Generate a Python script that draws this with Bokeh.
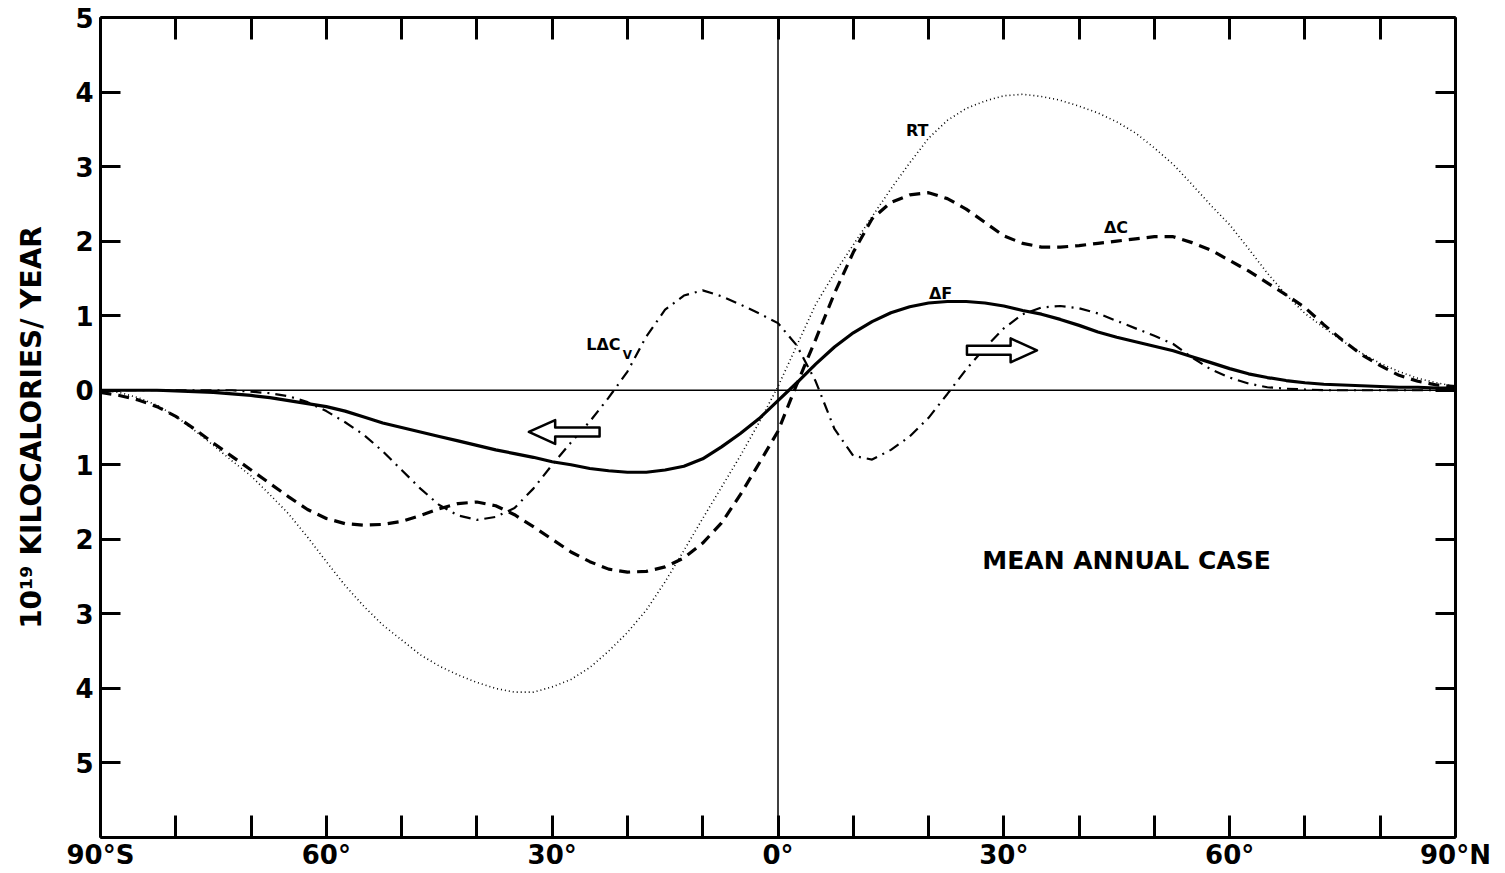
import numpy as np
from bokeh.plotting import figure
from bokeh.models import Range1d, LinearAxis, FixedTicker, Span
from bokeh.core.properties import value
from bokeh.embed import file_html
from bokeh.resources import INLINE

# ---------------- data ----------------
lat = [-90, -87.5, -85, -82.5, -80, -77.5, -75, -72.5, -70, -67.5, -65, -62.5,
       -60, -57.5, -55, -52.5, -50, -47.5, -45, -42.5, -40, -37.5, -35, -32.5,
       -30, -27.5, -25, -22.5, -20, -17.5, -15, -12.5, -10, -7.5, -5, -2.5,
       0, 2.5, 5, 7.5, 10, 12.5, 15, 17.5, 20, 22.5, 25, 27.5, 30, 32.5, 35,
       37.5, 40, 42.5, 45, 47.5, 50, 52.5, 55, 57.5, 60, 62.5, 65, 67.5, 70,
       72.5, 75, 77.5, 80, 82.5, 85, 87.5, 90]

RT = [0.00, -0.03, -0.10, -0.20, -0.35, -0.54, -0.74, -0.95, -1.15, -1.40, -1.66, -1.97,
      -2.30, -2.62, -2.90, -3.15, -3.35, -3.55, -3.70, -3.82, -3.92, -4.00, -4.05, -4.05,
      -3.98, -3.88, -3.72, -3.50, -3.25, -2.95, -2.57, -2.15, -1.72, -1.30, -0.88, -0.43,
      0.05, 0.60, 1.15, 1.57, 1.95, 2.33, 2.70, 3.05, 3.38, 3.62, 3.78, 3.88, 3.95, 3.97, 3.94,
      3.89, 3.81, 3.72, 3.60, 3.45, 3.25, 3.03, 2.76, 2.48, 2.22, 1.90, 1.57, 1.28, 1.03,
      0.84, 0.66, 0.50, 0.36, 0.25, 0.16, 0.10, 0.05]

dC = [-0.03, -0.07, -0.13, -0.22, -0.35, -0.52, -0.71, -0.89, -1.07, -1.25, -1.43, -1.60,
      -1.72, -1.79, -1.81, -1.80, -1.76, -1.68, -1.59, -1.52, -1.50, -1.55, -1.67, -1.83,
      -2.00, -2.17, -2.30, -2.40, -2.44, -2.43, -2.37, -2.25, -2.05, -1.78, -1.40, -0.98,
      -0.55, 0.08, 0.68, 1.30, 1.85, 2.30, 2.52, 2.62, 2.65, 2.57, 2.43, 2.25, 2.07, 1.97, 1.92,
      1.92, 1.94, 1.97, 2.00, 2.03, 2.06, 2.06, 1.98, 1.88, 1.74, 1.60, 1.44, 1.28, 1.11,
      0.88, 0.67, 0.48, 0.33, 0.20, 0.12, 0.07, 0.05]

dF = [0.00, 0.00, 0.00, 0.00, -0.01, -0.02, -0.03, -0.05, -0.07, -0.10, -0.14, -0.18,
      -0.22, -0.28, -0.36, -0.44, -0.50, -0.56, -0.62, -0.68, -0.74, -0.80, -0.85, -0.90,
      -0.96, -1.00, -1.05, -1.08, -1.10, -1.10, -1.07, -1.02, -0.92, -0.76, -0.58, -0.38,
      -0.14, 0.10, 0.35, 0.58, 0.77, 0.92, 1.04, 1.12, 1.17, 1.19, 1.19, 1.17, 1.13, 1.07, 1.02,
      0.95, 0.87, 0.78, 0.71, 0.65, 0.59, 0.53, 0.45, 0.37, 0.29, 0.22, 0.17, 0.13, 0.10,
      0.08, 0.07, 0.06, 0.05, 0.04, 0.04, 0.03, 0.03]

LdCv = [0.00, 0.00, 0.00, 0.00, 0.00, 0.00, 0.00, 0.00, -0.02, -0.04, -0.08, -0.16,
        -0.28, -0.43, -0.60, -0.82, -1.07, -1.32, -1.54, -1.68, -1.74, -1.70, -1.58, -1.32,
        -1.00, -0.70, -0.42, -0.10, 0.25, 0.72, 1.08, 1.27, 1.34, 1.26, 1.15, 1.03,
        0.90, 0.60, 0.12, -0.52, -0.88, -0.93, -0.80, -0.62, -0.37, -0.05, 0.28, 0.57, 0.83, 1.02, 1.11,
        1.13, 1.10, 1.03, 0.93, 0.83, 0.73, 0.62, 0.44, 0.28, 0.17, 0.09, 0.04, 0.02, 0.01,
        0.00, 0.00, 0.00, 0.00, 0.00, 0.00, 0.00, 0.00]

x_ticks = [-90, -80, -70, -60, -50, -40, -30, -20, -10, 0, 10, 20, 30, 40, 50, 60, 70, 80, 90]
x_labels = {-90: "90°S", -60: "60°", -30: "30°", 0: "0°", 30: "30°", 60: "60°", 90: "90°N"}
y_ticks = [-6, -5, -4, -3, -2, -1, 0, 1, 2, 3, 4, 5]
y_labels = {-5: "5", -4: "4", -3: "3", -2: "2", -1: "1", 0: "0", 1: "1", 2: "2", 3: "3", 4: "4", 5: "5", -6: ""}

# annotation positions (lat, value)
curve_labels = ["RT", "ΔC", "ΔF", "LΔC"]
curve_label_x = [18.5, 44.9, 21.6, -23.2]
curve_label_y = [3.49, 2.18, 1.30, 0.62]
sub_label = ["V"]
sub_label_x = [-20.0]
sub_label_y = [0.47]
case_text = ["MEAN ANNUAL CASE"]
case_x = [46.3]
case_y = [-2.28]
# arrows: tail lat, tip lat, value
arrow_tail = [-23.7, 25.1]
arrow_tip = [-33.1, 34.4]
arrow_y = [-0.56, 0.535]

FONT = "DejaVu Sans"

p = figure(width=1500, height=872, x_range=Range1d(-90, 90), y_range=Range1d(-6, 5),
           output_backend="svg", toolbar_location=None, x_axis_location=None,
           y_axis_location=None, min_border_left=100, min_border_right=45,
           min_border_top=17, min_border_bottom=0)
p.outline_line_color = None
p.xgrid.visible = False
p.ygrid.visible = False
p.background_fill_color = "white"
p.border_fill_color = "white"

def style_axis(ax, ticks, labels, tick_in, show_labels=True):
    ax.ticker = FixedTicker(ticks=ticks)
    ax.major_label_overrides = {k: (labels.get(k, "") if show_labels else "") for k in ticks}
    ax.axis_line_width = 3
    ax.axis_line_color = "black"
    ax.major_tick_line_width = 3
    ax.major_tick_line_color = "black"
    ax.major_tick_in = tick_in
    ax.major_tick_out = 0
    ax.minor_tick_line_color = None
    ax.major_label_text_font = FONT
    ax.major_label_text_font_style = "bold"
    ax.major_label_text_font_size = "26px" if show_labels else "1px"
    ax.major_label_text_color = "black"

xb = LinearAxis()
style_axis(xb, x_ticks, x_labels, 22)
xb.major_label_standoff = 2
p.add_layout(xb, "below")

xt = LinearAxis()
style_axis(xt, x_ticks, x_labels, 22, show_labels=False)
xt.major_label_standoff = 0
p.add_layout(xt, "above")

yl = LinearAxis()
style_axis(yl, y_ticks, y_labels, 20)
yl.major_label_standoff = 7
yl.axis_label = "10¹⁹ KILOCALORIES/ YEAR"
yl.axis_label_text_font = FONT
yl.axis_label_text_font_style = "bold"
yl.axis_label_text_font_size = "28px"
yl.axis_label_standoff = 24
yl.axis_label_text_color = "black"
p.add_layout(yl, "left")

yr = LinearAxis()
style_axis(yr, y_ticks, y_labels, 20, show_labels=False)
yr.major_label_standoff = 0
p.add_layout(yr, "right")

# reference lines
p.add_layout(Span(location=0, dimension="width", line_color="black", line_width=1.3))
p.add_layout(Span(location=0, dimension="height", line_color="black", line_width=1.5))

# curves
p.line(lat, RT, line_color="black", line_width=1.6, line_dash="1 3")
p.line(lat, dC, line_color="black", line_width=3.2, line_dash="11 7")
p.line(lat, dF, line_color="black", line_width=3.2)
p.line(lat, LdCv, line_color="black", line_width=2.2, line_dash="11 6 2 6")

# hollow arrows
head_len = 3.5
shaft_h = 0.06
head_h = 0.16
for t0, t1, yc in zip(arrow_tail, arrow_tip, arrow_y):
    d = 1 if t1 > t0 else -1
    hb = t1 - d * head_len
    xs = [t0, hb, hb, t1, hb, hb, t0]
    ys = [yc - shaft_h, yc - shaft_h, yc - head_h, yc, yc + head_h, yc + shaft_h, yc + shaft_h]
    p.patch(xs, ys, fill_color="white", line_color="black", line_width=2.5, line_join="round")

# labels
p.text(curve_label_x, curve_label_y, text=curve_labels, text_font=value(FONT),
       text_font_style="bold", text_font_size="16px", text_align="center",
       text_baseline="middle", text_color="black")
p.text(sub_label_x, sub_label_y, text=sub_label, text_font=value(FONT),
       text_font_style="bold", text_font_size="12px", text_align="center",
       text_baseline="middle", text_color="black")
p.text(case_x, case_y, text=case_text, text_font=value(FONT),
       text_font_style="bold", text_font_size="25px", text_align="center",
       text_baseline="middle", text_color="black")

open("out.html", "w").write(file_html(p, INLINE))
